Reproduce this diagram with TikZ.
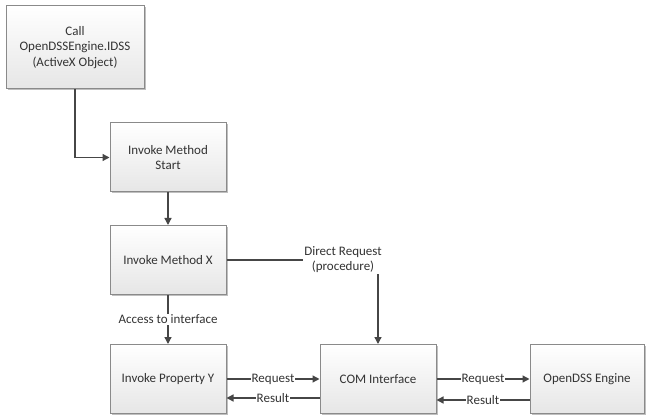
\documentclass[tikz,border=0pt]{standalone}
\usepackage{fontspec}
\setmainfont{Carlito}
\usetikzlibrary{shadows,arrows.meta}
\definecolor{txt}{HTML}{333333}
\definecolor{ln}{HTML}{464646}
\definecolor{bord}{HTML}{8A8A8A}
\definecolor{bot}{HTML}{E6E6E6}
\begin{document}
\begin{tikzpicture}[x=1pt,y=-1pt,
  box/.style={draw=bord, line width=1pt, top color=white, bottom color=bot,
    minimum width=116pt, minimum height=69pt, align=center, text=txt,
    font=\fontsize{13}{15.5}\selectfont, inner sep=2pt,
    drop shadow={shadow xshift=1.5pt, shadow yshift=-1.5pt, fill=black, opacity=0.25}},
  conn/.style={draw=ln, line width=1.3pt, -{Triangle[length=7pt,width=7pt]}},
  lbl/.style={fill=white, inner sep=1pt, text=txt, font=\fontsize{13}{15}\selectfont, align=center}]
\useasboundingbox[fill=white] (0,0) rectangle (646,417);

\node[box, minimum width=138pt, minimum height=83pt] (b1) at (75,47.5) {Call\\OpenDSSEngine.IDSS\\(ActiveX Object)};
\node[box] (b2) at (168,157.5) {Invoke Method\\Start};
\node[box] (b3) at (168,260) {Invoke Method X};
\node[box] (b4) at (168,379) {Invoke Property Y};
\node[box] (b5) at (378,379) {COM Interface};
\node[box, minimum width=114pt] (b6) at (587,379) {OpenDSS Engine};

\draw[conn] (b1.south) |- (b2.west);
\draw[conn] (b2) -- (b3);
\draw[conn] (b3) -- node[lbl] {Access to interface} (b4);
\draw[conn] (b3.east) -| (b5.north);
\node[lbl] (dr) at (343,260) {Direct Request\\(procedure)};

\draw[conn] (b4.east) -- node[lbl] {Request} (b5.west);
\draw[conn] ([yshift=-19pt]b5.west) -- node[lbl] {Result} ([yshift=-19pt]b4.east);
\draw[conn] (b5.east) -- node[lbl] {Request} (b6.west);
\draw[conn] ([yshift=-21pt]b6.west) -- node[lbl] {Result} ([yshift=-21pt]b5.east);
\end{tikzpicture}
\end{document}
